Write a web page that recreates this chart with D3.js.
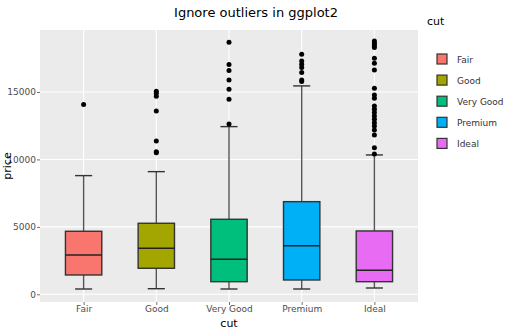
<!DOCTYPE html>
<html>
<head>
<meta charset="utf-8">
<script src="https://cdn.jsdelivr.net/npm/d3@7"></script>
<style>
  body { margin: 0; background: #fff; }
  svg { display: block; font-family: "DejaVu Sans", Verdana, sans-serif; }
</style>
</head>
<body>
<div id="chart"></div>
<script>
'use strict';

// box summaries per cut
var categories = ['Fair', 'Good', 'Very Good', 'Premium', 'Ideal'];
var lowerWhisker = [393, 415, 393, 393, 467];
var q1 = [1432, 1929, 935, 1061, 935];
var medians = [2915, 3412, 2596, 3605, 1780];
var q3 = [4674, 5267, 5563, 6869, 4696];
var upperWhisker = [8800, 9095, 12433, 15452, 10333];
var outliers = [
    [14065],
    [15058, 14910, 14688, 13597, 11372, 10578, 10504],
    [18694, 17032, 16587, 15897, 15207, 14465, 12633],
    [17803, 17306, 17061, 16810, 16438, 15897, 15771],
    [18790, 18618, 18442, 18293, 17507, 17136, 16639, 15282, 14784, 14539,
     13968, 13722, 13471, 13226, 12982, 12729, 12484, 12188, 11817, 10875, 10407]
];
var yTicks = [0, 5000, 10000, 15000];
var colors = ['#F8766D', '#A3A500', '#00BF7D', '#00B0F6', '#E76BF3'];

var width = 512, height = 329,
    panel = {left: 40, right: 418, top: 30, bottom: 302};

var svg = d3.select('#chart').append('svg')
    .attr('width', width)
    .attr('height', height);

var x = d3.scalePoint()
    .domain(categories)
    .range([panel.left, panel.right])
    .padding(0.6);
var step = x.step(),
    boxW = step * 0.5,
    capW = boxW * 0.47;

var y = d3.scaleLinear()
    .domain([-571, 19597])
    .range([panel.bottom, panel.top]);

// panel background + grid
svg.append('rect')
    .attr('x', panel.left).attr('y', panel.top)
    .attr('width', panel.right - panel.left)
    .attr('height', panel.bottom - panel.top)
    .attr('fill', '#EBEBEB');

svg.append('g').selectAll('line').data(yTicks).enter().append('line')
    .attr('x1', panel.left).attr('x2', panel.right)
    .attr('y1', function(d){ return y(d); }).attr('y2', function(d){ return y(d); })
    .attr('stroke', '#fff').attr('stroke-width', 1.1);

svg.append('g').selectAll('line').data(categories).enter().append('line')
    .attr('x1', function(d){ return x(d); }).attr('x2', function(d){ return x(d); })
    .attr('y1', panel.top).attr('y2', panel.bottom)
    .attr('stroke', '#fff').attr('stroke-width', 1.1);

// axes
var yAxis = svg.append('g')
    .attr('transform', 'translate(' + panel.left + ',0)')
    .call(d3.axisLeft(y).tickValues(yTicks).tickSize(3).tickPadding(1).tickFormat(d3.format('d')));
var xAxis = svg.append('g')
    .attr('transform', 'translate(0,' + panel.bottom + ')')
    .call(d3.axisBottom(x).tickSize(3).tickPadding(1));
[yAxis, xAxis].forEach(function(ax){
    ax.select('.domain').remove();
    ax.selectAll('.tick line').attr('stroke', '#4d4d4d').attr('stroke-width', 0.8);
    ax.selectAll('.tick text')
        .attr('fill', '#4d4d4d')
        .style('font-family', '"DejaVu Sans", Verdana, sans-serif')
        .style('font-size', '9px');
});

// boxes
var boxes = svg.append('g').selectAll('g').data(categories).enter().append('g');

boxes.append('line')
    .attr('x1', function(d){ return x(d); }).attr('x2', function(d){ return x(d); })
    .attr('y1', function(d, i){ return y(upperWhisker[i]); })
    .attr('y2', function(d, i){ return y(q3[i]); })
    .attr('stroke', '#555').attr('stroke-width', 1.4);
boxes.append('line')
    .attr('x1', function(d){ return x(d); }).attr('x2', function(d){ return x(d); })
    .attr('y1', function(d, i){ return y(q1[i]); })
    .attr('y2', function(d, i){ return y(lowerWhisker[i]); })
    .attr('stroke', '#555').attr('stroke-width', 1.4);
// whisker caps
[upperWhisker, lowerWhisker].forEach(function(arr){
    boxes.append('line')
        .attr('x1', function(d){ return x(d) - capW / 2; })
        .attr('x2', function(d){ return x(d) + capW / 2; })
        .attr('y1', function(d, i){ return y(arr[i]); })
        .attr('y2', function(d, i){ return y(arr[i]); })
        .attr('stroke', '#333').attr('stroke-width', 1.4);
});

boxes.append('rect')
    .attr('x', function(d){ return x(d) - boxW / 2; })
    .attr('width', boxW)
    .attr('y', function(d, i){ return y(q3[i]); })
    .attr('height', function(d, i){ return y(q1[i]) - y(q3[i]); })
    .attr('fill', function(d, i){ return colors[i]; })
    .attr('stroke', '#333').attr('stroke-width', 1.4);

boxes.append('line')
    .attr('x1', function(d){ return x(d) - boxW / 2; })
    .attr('x2', function(d){ return x(d) + boxW / 2; })
    .attr('y1', function(d, i){ return y(medians[i]); })
    .attr('y2', function(d, i){ return y(medians[i]); })
    .attr('stroke', '#222').attr('stroke-width', 1.4);

boxes.each(function(d, i){
    d3.select(this).selectAll('circle').data(outliers[i]).enter().append('circle')
        .attr('cx', x(d))
        .attr('cy', function(v){ return y(v); })
        .attr('r', 2.5)
        .attr('fill', '#000');
});

// titles
svg.append('text')
    .attr('x', 256).attr('y', 17)
    .attr('text-anchor', 'middle')
    .attr('font-size', '13px').attr('fill', '#000')
    .text('Ignore outliers in ggplot2');
svg.append('text')
    .attr('x', (panel.left + panel.right) / 2).attr('y', 327)
    .attr('text-anchor', 'middle')
    .attr('font-size', '11px').attr('fill', '#000')
    .text('cut');
svg.append('text')
    .attr('transform', 'translate(11,' + ((panel.top + panel.bottom) / 2) + ') rotate(-90)')
    .attr('text-anchor', 'middle')
    .attr('font-size', '11px').attr('fill', '#000')
    .text('price');

// legend
var legend = svg.append('g');
legend.append('text')
    .attr('x', 427).attr('y', 25)
    .attr('font-size', '11px').attr('fill', '#000')
    .text('cut');
var items = legend.selectAll('g.item').data(categories).enter().append('g')
    .attr('class', 'item')
    .attr('transform', function(d, i){ return 'translate(437,' + (59 + i * 21.1) + ')'; });
items.append('rect')
    .attr('x', 0).attr('y', -5)
    .attr('width', 10).attr('height', 10)
    .attr('fill', function(d, i){ return colors[i]; })
    .attr('stroke', '#333').attr('stroke-width', 1.2);
items.append('text')
    .attr('x', 20).attr('y', 3.5)
    .attr('font-size', '9px').attr('fill', '#333')
    .text(function(d){ return d; });
</script>
</body>
</html>
